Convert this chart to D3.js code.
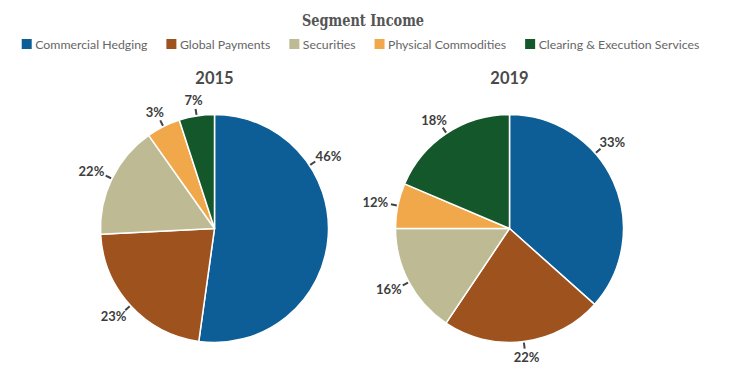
<!DOCTYPE html>
<html>
<head>
<meta charset="utf-8">
<script src="https://cdn.jsdelivr.net/npm/d3@7"></script>
<style>
body{margin:0;background:#fff;}
svg{display:block;}
</style>
</head>
<body>
<div id="chart-area"></div>
<script>
// data
var segments=["Commercial Hedging","Global Payments","Securities","Physical Commodities","Clearing & Execution Services"];
var segColors=["#0d5e96","#9e531f","#bdba94","#f0a84a","#14572b"];
var years=["2015","2019"];
var share2015=[52.2,22.0,16.0,4.8,5.0];
var share2019=[36.6,22.8,15.6,6.4,18.6];
var label2015=["46%","23%","22%","3%","7%"];
var label2019=["33%","22%","16%","12%","18%"];

var shares=[share2015,share2019];
var labels=[label2015,label2019];

// layout
var width=735, height=377;
var radius=114;
var pieY=228.5;
// where along the first slice its label sits (others sit in the middle)
var firstLabelFrac=[0.30,0.37];

var svg=d3.select("#chart-area").append("svg")
	.attr("width",width)
	.attr("height",height);

svg.append("text")
	.attr("x",363)
	.attr("y",26)
	.attr("text-anchor","middle")
	.attr("font-family","'DejaVu Serif Condensed','DejaVu Serif',serif")
	.attr("font-weight","bold")
	.attr("font-size","16px")
	.attr("fill","#555")
	.attr("textLength",122)
	.attr("lengthAdjust","spacingAndGlyphs")
	.text("Segment Income");

// legend, items laid out from measured text widths
var legend=svg.append("g").attr("transform","translate(0,39)");
var items=legend.selectAll("g.item")
	.data(segments)
	.enter().append("g")
	.attr("class","item");

items.append("rect")
	.attr("width",10)
	.attr("height",10)
	.attr("fill",(d,i)=>segColors[i]);

items.append("text")
	.attr("x",13.5)
	.attr("y",9.6)
	.attr("font-family","Lato, sans-serif")
	.attr("font-size","12.3px")
	.attr("fill","#666")
	.text(d=>d);

var xpos=[], cur=0;
items.each(function(d,i){
	var w=13.5+d3.select(this).select("text").node().getComputedTextLength();
	xpos.push(cur);
	cur+=w+19;
});
var total=cur-19;
var start=360.5-total/2;
items.attr("transform",(d,i)=>"translate("+(start+xpos[i])+",0)");

var x=d3.scaleBand()
	.domain(years)
	.range([67,657]);

var pie=d3.pie().sort(null).value(d=>d);
var arc=d3.arc().innerRadius(0).outerRadius(radius);

years.forEach((yr,k)=>{
	var cx=x(yr)+x.bandwidth()/2;
	var g=svg.append("g")
		.attr("transform","translate("+cx+","+pieY+")");

	svg.append("text")
		.attr("x",cx)
		.attr("y",84)
		.attr("text-anchor","middle")
		.attr("font-family","Lato, sans-serif")
		.attr("font-weight","bold")
		.attr("font-size","16.5px")
		.attr("fill","#4a4a4a")
		.text(yr);

	var slices=pie(shares[k]);

	g.selectAll("path")
		.data(slices)
		.enter().append("path")
		.attr("d",arc)
		.attr("fill",(d,i)=>segColors[i])
		.attr("stroke","#fff")
		.attr("stroke-width",1.5)
		.attr("stroke-linejoin","round");

	slices.forEach((d,i)=>{
		var f=(i==0)?firstLabelFrac[k]:0.5;
		var a=d.startAngle+(d.endAngle-d.startAngle)*f;
		var s=Math.sin(a), c=-Math.cos(a);
		var r0=radius+1, r1=radius+7;
		g.append("line")
			.attr("x1",s*r0).attr("y1",c*r0)
			.attr("x2",s*r1).attr("y2",c*r1)
			.attr("stroke","#444")
			.attr("stroke-width",2);

		var t=g.append("text")
			.attr("font-family","Lato, sans-serif")
			.attr("font-weight","bold")
			.attr("font-size","13px")
			.attr("fill","#3d3d3d")
			.attr("text-anchor","middle")
			.text(labels[k][i]);
		var w=t.node().getComputedTextLength();
		var tx=s*r1+s*(w/2+3);
		var ty=c*r1+c*(6+3);
		t.attr("x",tx).attr("y",ty+4.5);
	});
});
</script>
</body>
</html>
